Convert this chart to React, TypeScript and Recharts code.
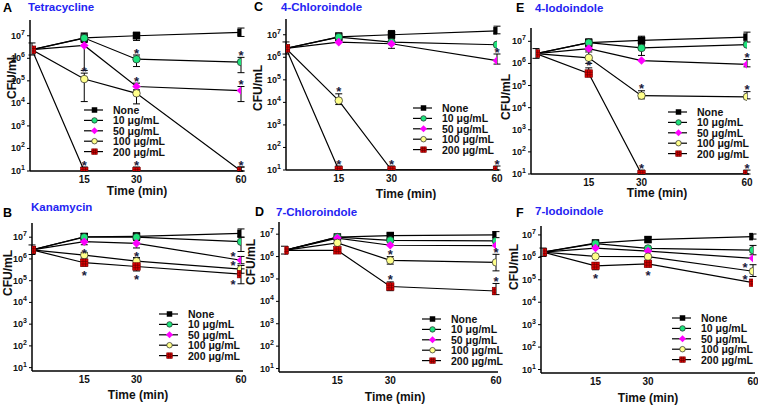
import React from 'react';
import { ComposedChart, Line, XAxis, YAxis, ErrorBar, LabelList, Legend } from 'recharts';

const FONT = '"Liberation Sans", Arial, Helvetica, sans-serif';
const TIMES = [0, 15, 30, 60];
const X_TICKS = [15, 30, 60];
const Y_TICKS = [10, 100, 1000, 10000, 100000, 1000000, 10000000];
const SERIES_NAMES = ['None', '10 μg/mL', '50 μg/mL', '100 μg/mL', '200 μg/mL'];
const SERIES_FILLS = ['#000000', '#1ee37c', '#ff00ff', '#ffff8a', '#e00000'];
const SERIES_SHAPES = ['square', 'circle', 'diamond', 'circle', 'grid'];

// ---- Panel A: Tetracycline ----
const A_VALUES = [
  [2.4e6, 8e6, 1e7, 1.4e7],
  [2.4e6, 7.9e6, 9.1e5, 6.8e5],
  [2.4e6, 3.7e6, 5.6e4, 3.7e4],
  [2.4e6, 1.2e5, 2.8e4, 10],
  [2.4e6, 10, 10, 10],
];
const A_HIGH = [
  [4.8e6, 1.3e7, 1.45e7, 2.2e7],
  [null, 1.3e7, 1.4e6, 1.1e6],
  [null, 5e6, 7.9e4, 5.6e4],
  [null, 2.2e5, 4e4, 15],
  [null, 15, 15, 15],
];
const A_LOW = [
  [1.4e6, 6e6, 6.2e6, 9.3e6],
  [null, 5.6e6, 4.3e5, 2.3e5],
  [null, 2.9e5, 3.5e4, 1.2e4],
  [null, 1.2e4, 9.5e3, null],
  [null, null, null, null],
];
const A_STARS = [
  ['', '', '', ''],
  ['', '', 'u', 'u'],
  ['', '', 'u', 'u'],
  ['', 'u', '', ''],
  ['', 'u', 'u', 'u'],
];

// ---- Panel B: Kanamycin ----
const B_VALUES = [
  [2.6e6, 1.05e7, 1.1e7, 1.5e7],
  [2.6e6, 1e7, 1e7, 6.2e6],
  [2.6e6, 6.2e6, 5.2e6, 8.7e5],
  [2.6e6, 1.5e6, 7.9e5, 3.4e5],
  [2.6e6, 6.7e5, 4.5e5, 2e5],
];
const B_HIGH = [
  [4.4e6, 1.5e7, 1.56e7, 2.4e7],
  [null, 1.5e7, 1.56e7, 1e7],
  [null, null, null, 1.3e6],
  [null, 2e6, 1.1e6, 5e5],
  [null, 9e5, 1.15e6, 3.5e5],
];
const B_LOW = [
  [1.6e6, 8e6, 8e6, 1e7],
  [null, 7e6, 7e6, 2.2e6],
  [null, 4.5e6, 3.2e6, 6e5],
  [null, 1.1e6, 5.5e5, 2.2e5],
  [null, 4.7e5, 2.8e5, 7.2e4],
];
const B_STARS = [
  ['', '', '', ''],
  ['', '', '', ''],
  ['', 'd', 'd', 'lu'],
  ['', '', '', 'lu'],
  ['', 'd', 'd', 'ld'],
];

// ---- Panel C: 4-Chloroindole ----
const C_VALUES = [
  [2.5e6, 8e6, 1e7, 1.5e7],
  [2.5e6, 7.9e6, 4.7e6, 3.6e6],
  [2.5e6, 4.7e6, 4e6, 7.1e5],
  [2.5e6, 1.2e4, 10, 10],
  [2.5e6, 10, 10, 10],
];
const C_HIGH = [
  [4.8e6, 1.2e7, 1.55e7, 2.4e7],
  [null, 1.2e7, null, null],
  [null, null, 7e6, 1.4e6],
  [null, 2.4e4, null, null],
  [null, 15, 15, 15],
];
const C_LOW = [
  [1.4e6, 6e6, 6.6e6, 1.1e7],
  [null, 5.5e6, null, null],
  [null, null, 2.5e6, 5e5],
  [null, 8e3, null, null],
  [null, null, null, null],
];
const C_STARS = [
  ['', '', '', ''],
  ['', '', '', ''],
  ['', '', '', 'u'],
  ['', 'u', '', ''],
  ['', 'u', 'u', 'u'],
];

// ---- Panel D: 7-Chloroindole ----
const D_VALUES = [
  [1.9e6, 7.4e6, 8.7e6, 9.3e6],
  [1.9e6, 7.4e6, 5.3e6, 5e6],
  [1.9e6, 6.7e6, 3.2e6, 3.1e6],
  [1.9e6, 4.1e6, 6.8e5, 5.5e5],
  [1.9e6, 1.9e6, 4.6e4, 2.9e4],
];
const D_HIGH = [
  [2.9e6, 1e7, 1.1e7, 1.3e7],
  [null, null, null, null],
  [null, null, null, null],
  [null, null, 1e6, 1.26e6],
  [null, null, 7.4e4, 6.3e4],
];
const D_LOW = [
  [1.3e6, 6e6, 6e6, 7e6],
  [null, null, null, null],
  [null, null, null, null],
  [null, null, 4.6e5, 2.3e5],
  [null, null, 3e4, 2e4],
];
const D_STARS = [
  ['', '', '', ''],
  ['', '', '', ''],
  ['', '', '', ''],
  ['', '', 'u', 'u'],
  ['', '', 'u', 'u'],
];

// ---- Panel E: 4-Iodoindole ----
const E_VALUES = [
  [2.8e6, 8.7e6, 1.1e7, 1.55e7],
  [2.8e6, 8.7e6, 5e6, 7.1e6],
  [2.8e6, 4.7e6, 1.35e6, 9e5],
  [2.8e6, 1.8e6, 3.5e4, 3.1e4],
  [2.8e6, 3.5e5, 10, 10],
];
const E_HIGH = [
  [4.7e6, 1.3e7, 1.7e7, 2.6e7],
  [null, null, 6.6e6, null],
  [null, 5.5e6, null, 1.5e6],
  [null, 3.3e6, 5.8e4, 5.3e4],
  [null, 6.3e5, 15, 15],
];
const E_LOW = [
  [1.7e6, 6e6, 7.3e6, 9.3e6],
  [null, null, 2.3e6, null],
  [null, 4e6, null, 7e5],
  [null, 1e6, 2.5e4, 2.5e4],
  [null, 2.5e5, null, null],
];
const E_STARS = [
  ['', '', '', ''],
  ['', '', '', ''],
  ['', '', '', 'u'],
  ['', '', 'u', 'u'],
  ['', 'u', 'u', 'u'],
];

// ---- Panel F: 7-Iodoindole ----
const F_VALUES = [
  [1.7e6, 4.3e6, 6.2e6, 8.4e6],
  [1.7e6, 4.1e6, 2.5e6, 2.1e6],
  [1.7e6, 2.6e6, 1.9e6, 9.1e5],
  [1.7e6, 1.1e6, 1.07e6, 2.4e5],
  [1.7e6, 4.2e5, 5.1e5, 7.4e4],
];
const F_HIGH = [
  [2.6e6, 6e6, 8e6, 1.1e7],
  [null, null, null, 3.4e6],
  [null, null, null, null],
  [null, null, null, 4.7e5],
  [null, 5.9e5, 6.5e5, null],
];
const F_LOW = [
  [1.1e6, 3e6, 4.8e6, 6.5e6],
  [null, null, null, 1.3e6],
  [null, null, null, null],
  [null, null, null, 1.4e5],
  [null, 2.8e5, 4e5, null],
];
const F_STARS = [
  ['', '', '', ''],
  ['', '', '', ''],
  ['', '', '', ''],
  ['', '', '', 'lu'],
  ['', 'd', 'd', 'lu'],
];

// ---- Layout (positions only) ----
const PANELS = [
  { letter: 'A', title: 'Tetracycline', values: A_VALUES, high: A_HIGH, low: A_LOW, stars: A_STARS,
    box: { x: 0, y: 0, w: 250, h: 200 }, plot: { l: 30, t: 20, r: 243, b: 171 }, yMin: 10, yMax: 5e7, padL: 2, padR: 2,
    legend: { x: 84, y: 105 }, yTitle: { x: 12, y: 76 }, xTitle: { x: 137, y: 191 },
    letterPos: { x: 3, y: 8 }, titlePos: { x: 28, y: 7 } },
  { letter: 'B', title: 'Kanamycin', values: B_VALUES, high: B_HIGH, low: B_LOW, stars: B_STARS,
    box: { x: 0, y: 200, w: 250, h: 205 }, plot: { l: 32, t: 223, r: 243, b: 371 }, yMin: 7, yMax: 4.5e7, padL: 0, padR: 2,
    legend: { x: 159, y: 309 }, yTitle: { x: 8, y: 273 }, xTitle: { x: 138, y: 395 },
    letterPos: { x: 3, y: 213 }, titlePos: { x: 31, y: 207 } },
  { letter: 'C', title: '4-Chloroindole', values: C_VALUES, high: C_HIGH, low: C_LOW, stars: C_STARS,
    box: { x: 245, y: 0, w: 265, h: 200 }, plot: { l: 286, t: 19, r: 499, b: 170 }, yMin: 10, yMax: 5e7, padL: 0, padR: 2,
    legend: { x: 413, y: 103 }, yTitle: { x: 258, y: 88 }, xTitle: { x: 406, y: 194 },
    letterPos: { x: 254, y: 7 }, titlePos: { x: 281, y: 7 } },
  { letter: 'D', title: '7-Chloroindole', values: D_VALUES, high: D_HIGH, low: D_LOW, stars: D_STARS,
    box: { x: 245, y: 200, w: 265, h: 205 }, plot: { l: 279, t: 222, r: 498, b: 372 }, yMin: 7, yMax: 3.5e7, padL: 5.5, padR: 2,
    legend: { x: 422, y: 314 }, yTitle: { x: 251, y: 262 }, xTitle: { x: 395, y: 397 },
    letterPos: { x: 255, y: 212 }, titlePos: { x: 276, y: 212 } },
  { letter: 'E', title: '4-Iodoindole', values: E_VALUES, high: E_HIGH, low: E_LOW, stars: E_STARS,
    box: { x: 500, y: 0, w: 258, h: 200 }, plot: { l: 531, t: 28, r: 749, b: 174 }, yMin: 10, yMax: 4e7, padL: 5, padR: 2,
    legend: { x: 668, y: 107 }, yTitle: { x: 506, y: 97 }, xTitle: { x: 657, y: 193 },
    letterPos: { x: 516, y: 8 }, titlePos: { x: 535, y: 8 } },
  { letter: 'F', title: '7-Iodoindole', values: F_VALUES, high: F_HIGH, low: F_LOW, stars: F_STARS,
    box: { x: 500, y: 200, w: 258, h: 205 }, plot: { l: 541, t: 226, r: 755, b: 373 }, yMin: 7, yMax: 2.5e7, padL: 2, padR: 2,
    legend: { x: 672, y: 313 }, yTitle: { x: 514, y: 267 }, xTitle: { x: 648, y: 398 },
    letterPos: { x: 516, y: 213 }, titlePos: { x: 535, y: 211 } },
];

function buildRows(values: number[][], high: any[][], low: any[][], stars: string[][]) {
  return TIMES.map((t, j) => {
    const row: any = { t };
    values.forEach((vals, i) => {
      const v = vals[j];
      row[`v${i}`] = v;
      const hi = high[i][j];
      const lo = low[i][j];
      if (hi != null || lo != null) {
        row[`e${i}`] = [v - (lo ?? v), (hi ?? v) - v];
      } else {
        row[`e${i}`] = null;
      }
      const k = stars[i][j];
      if (k) row[`s${i}`] = k === 'u' ? (hi ?? v) : k === 'd' ? (lo ?? v) : v;
      else row[`s${i}`] = null;
    });
    return row;
  });
}

function Marker({ cx, cy, shape, fill, size }: any) {
  if (cx == null || cy == null || isNaN(cx) || isNaN(cy)) return <g />;
  const r = size / 2;
  if (shape === 'square') return <rect x={cx - r} y={cy - r} width={size} height={size} fill={fill} />;
  if (shape === 'circle') return <circle cx={cx} cy={cy} r={r} fill={fill} stroke="#222" strokeWidth={0.7} />;
  if (shape === 'diamond') {
    const d = r + 0.8;
    return <polygon points={`${cx},${cy - d} ${cx + d},${cy} ${cx},${cy + d} ${cx - d},${cy}`} fill={fill} />;
  }
  const t = r / 3;
  return (
    <g>
      <rect x={cx - r} y={cy - r} width={size} height={size} fill={fill} stroke="#7a0000" strokeWidth={0.6} />
      <path d={`M${cx - t},${cy - r}V${cy + r}M${cx + t},${cy - r}V${cy + r}M${cx - r},${cy - t}H${cx + r}M${cx - r},${cy + t}H${cx + r}`} stroke="#700000" strokeWidth={0.7} />
    </g>
  );
}

const STAR_FS = 13;
function StarMark(p: any) {
  const kind = p.kind;
  const x = p.x ?? p.viewBox?.x;
  const y = p.y ?? p.viewBox?.y;
  if (!kind || x == null || y == null || isNaN(y) || p.value == null) return <g />;
  let sx = x;
  let sy = y;
  if (kind === 'u') sy = y - 5;
  else if (kind === 'd') sy = y + 6;
  else if (kind === 'lu') { sx = x - 8; sy = y - 6.5; }
  else if (kind === 'ld') { sx = x - 8; sy = y + 7; }
  return (
    <text x={sx} y={sy + 0.58 * STAR_FS} textAnchor="middle" fontSize={STAR_FS} fontWeight="bold" fontFamily={FONT} fill="#1b1b3c">*</text>
  );
}

function YTick(props: any) {
  const { x, y, payload } = props;
  const exp = Math.round(Math.log10(payload.value));
  return (
    <text x={x} y={y} textAnchor="end" dominantBaseline="central" fontFamily={FONT} fontWeight="bold" fontSize={9} fill="#111">
      <tspan>10</tspan>
      <tspan fontSize={7} dy={-4}>{exp}</tspan>
    </text>
  );
}

function renderLegend(props: any) {
  const items = (props.payload || [])
    .filter((it: any) => SERIES_NAMES.includes(it.value))
    .sort((a: any, b: any) => SERIES_NAMES.indexOf(a.value) - SERIES_NAMES.indexOf(b.value));
  return (
    <svg width={112} height={58} style={{ overflow: 'visible', display: 'block' }}>
      {items.map((it: any, n: number) => {
        const i = SERIES_NAMES.indexOf(it.value);
        const y = 5 + n * 10.4;
        return (
          <g key={it.value}>
            <line x1={0} x2={19} y1={y} y2={y} stroke="#000" strokeWidth={1.2} />
            <Marker cx={10.5} cy={y} shape={SERIES_SHAPES[i]} fill={SERIES_FILLS[i]} size={5.5} />
            <text x={29} y={y} dominantBaseline="central" fontFamily={FONT} fontWeight="bold" fontSize={10.5} fill="#111">{it.value}</text>
          </g>
        );
      })}
    </svg>
  );
}

const YW = 28;
const XH = 22;

function Panel({ def }: any) {
  const rows = buildRows(def.values, def.high, def.low, def.stars);
  const { box, plot } = def;
  const margin = {
    left: plot.l - box.x - YW,
    top: plot.t - box.y,
    right: box.x + box.w - plot.r,
    bottom: box.y + box.h - plot.b - XH,
  };
  const yTitle = () => (
    <text transform={`translate(${def.yTitle.x - box.x},${def.yTitle.y - box.y}) rotate(-90)`} textAnchor="middle" dominantBaseline="central" fontFamily={FONT} fontWeight="bold" fontSize={12} fill="#111">CFU/mL</text>
  );
  const xTitle = () => (
    <text x={def.xTitle.x - box.x} y={def.xTitle.y - box.y} textAnchor="middle" dominantBaseline="central" fontFamily={FONT} fontWeight="bold" fontSize={12} fill="#111">Time (min)</text>
  );
  return (
    <div style={{ position: 'absolute', left: box.x, top: box.y, width: box.w, height: box.h }}>
      <ComposedChart width={box.w} height={box.h} data={rows} margin={margin} style={{ overflow: 'visible' }}>
        <XAxis dataKey="t" type="number" domain={[0, 60]} ticks={X_TICKS} interval={0} padding={{ left: def.padL, right: def.padR }}
          allowDataOverflow height={XH} tickLine={false} tickSize={3} tickMargin={2}
          axisLine={{ stroke: '#000', strokeWidth: 1.5 }}
          tick={{ fontSize: 10, fontWeight: 'bold', fill: '#111', fontFamily: FONT }} label={xTitle} />
        <YAxis type="number" scale="log" domain={[def.yMin, def.yMax]} allowDataOverflow ticks={Y_TICKS} interval={0}
          width={YW} tickSize={3} tickMargin={2} tickLine={{ stroke: '#000' }}
          axisLine={{ stroke: '#000', strokeWidth: 1.5 }} tick={(p: any) => <YTick {...p} />} label={yTitle} />
        <Legend layout="vertical" align="center" verticalAlign="middle" content={renderLegend}
          wrapperStyle={{ left: def.legend.x - box.x, top: def.legend.y - box.y, width: 112, height: 58 }} />
        {SERIES_NAMES.map((name, i) => (
          <Line key={`l${i}`} dataKey={`v${i}`} name={name} stroke="#000" strokeWidth={1.2} isAnimationActive={false}
            activeDot={false}
            dot={(p: any) => <Marker key={`d${i}-${p.index}`} cx={p.cx} cy={p.cy} shape={SERIES_SHAPES[i]} fill={SERIES_FILLS[i]} size={i === 2 ? 7 : 7.5} />}>
            <ErrorBar dataKey={`e${i}`} width={3.5} stroke="#000" strokeWidth={1} direction="y" />
          </Line>
        ))}
        {SERIES_NAMES.map((name, i) => (
          def.stars[i].some((k: string) => k) ? (
            <Line key={`s${i}`} dataKey={`s${i}`} name={`${name} *`} stroke="none" dot={false} activeDot={false}
              legendType="none" isAnimationActive={false}>
              <LabelList dataKey={`s${i}`} content={(p: any) => <StarMark {...p} kind={def.stars[i][p.index]} />} />
            </Line>
          ) : null
        ))}
      </ComposedChart>
    </div>
  );
}

export default function App() {
  return (
    <div style={{ position: 'absolute', left: 0, top: 0, width: 758, height: 405, background: '#fff', overflow: 'hidden', fontFamily: FONT }}>
      {PANELS.map((def) => <Panel key={def.letter} def={def} />)}
      <svg width={758} height={405} style={{ position: 'absolute', left: 0, top: 0, pointerEvents: 'none' }}>
        {PANELS.map((def) => (
          <g key={def.letter}>
            <text x={def.letterPos.x} y={def.letterPos.y} dominantBaseline="central" fontFamily={FONT} fontWeight="bold" fontSize={12.5} fill="#000">{def.letter}</text>
            <text x={def.titlePos.x} y={def.titlePos.y} dominantBaseline="central" fontFamily={FONT} fontWeight="bold" fontSize={11.5} fill="#2424f2">{def.title}</text>
          </g>
        ))}
      </svg>
    </div>
  );
}
